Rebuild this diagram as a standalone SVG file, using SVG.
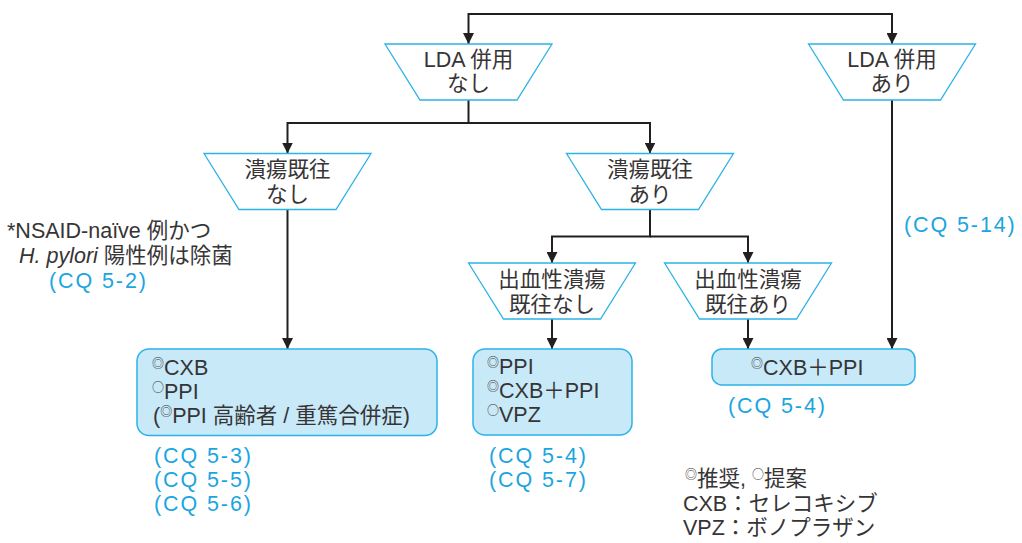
<svg xmlns="http://www.w3.org/2000/svg" width="1022" height="543" viewBox="0 0 1022 543">
<defs>
<style>
text{font-family:"Liberation Sans","Noto Sans CJK JP",sans-serif;font-size:21.5px;fill:#363435}
.c{text-anchor:middle}
.cq{fill:#1ba5df;letter-spacing:1.9px}
.sup{font-family:"Noto Sans CJK JP",sans-serif;font-size:12px}
.trap{fill:#fff;stroke:#2bb2e6;stroke-width:1.3}
.box{fill:#c8e9f8;stroke:#2bb2e6;stroke-width:1.5}
.ln{fill:none;stroke:#231f20;stroke-width:2}
</style>
<marker id="ah" viewBox="0 0 11 11" refX="11" refY="5.5" markerWidth="11" markerHeight="11" markerUnits="userSpaceOnUse" orient="auto">
<path d="M0,0 L11,5.5 L0,11 z" fill="#231f20"/>
</marker>
</defs>
<rect width="1022" height="543" fill="#fff"/>

<g id="connectors">
<path class="ln" d="M680,14 H468.5 V44" marker-end="url(#ah)"/>
<path class="ln" d="M680,14 H892 V44" marker-end="url(#ah)"/>
<path class="ln" d="M468.5,100 V123 H287.5 V153.5" marker-end="url(#ah)"/>
<path class="ln" d="M468.5,123 H650 V153.5" marker-end="url(#ah)"/>
<path class="ln" d="M287.5,209.5 V349" marker-end="url(#ah)"/>
<path class="ln" d="M650,209.5 V236.5 H552 V263" marker-end="url(#ah)"/>
<path class="ln" d="M650,236.5 H748 V263" marker-end="url(#ah)"/>
<path class="ln" d="M552,319 V349" marker-end="url(#ah)"/>
<path class="ln" d="M748,319 V349" marker-end="url(#ah)"/>
<path class="ln" d="M892,100 V349" marker-end="url(#ah)"/>
</g>

<g id="lda-none">
<polygon class="trap" points="385,44 552,44 517,100 420,100"/>
<text class="c" x="468.5" y="66.5">LDA 併用</text>
<text class="c" x="468.5" y="91">なし</text>
</g>
<g id="lda-yes">
<polygon class="trap" points="808.5,44 975.5,44 940.5,100 843.5,100"/>
<text class="c" x="892" y="66.5">LDA 併用</text>
<text class="c" x="892" y="91">あり</text>
</g>
<g id="ulcer-none">
<polygon class="trap" points="204,153.5 371,153.5 336,209.5 239,209.5"/>
<text class="c" x="287.5" y="176.5">潰瘍既往</text>
<text class="c" x="287.5" y="201.5">なし</text>
</g>
<g id="ulcer-yes">
<polygon class="trap" points="566.5,153.5 733.5,153.5 698.5,209.5 601.5,209.5"/>
<text class="c" x="650" y="176.5">潰瘍既往</text>
<text class="c" x="650" y="201.5">あり</text>
</g>
<g id="bleed-none">
<polygon class="trap" points="468.5,263 635.5,263 600.5,319 503.5,319"/>
<text class="c" x="552" y="287">出血性潰瘍</text>
<text class="c" x="552" y="312">既往なし</text>
</g>
<g id="bleed-yes">
<polygon class="trap" points="664.5,263 831.5,263 796.5,319 699.5,319"/>
<text class="c" x="748" y="287">出血性潰瘍</text>
<text class="c" x="748" y="312">既往あり</text>
</g>

<g id="box-cxb">
<rect class="box" x="137" y="349" width="300" height="86.5" rx="12"/>
<text x="152" y="375"><tspan class="sup" dy="-7">◎</tspan><tspan dy="7">CXB</tspan></text>
<text x="152" y="399"><tspan class="sup" dy="-7">○</tspan><tspan dy="7">PPI</tspan></text>
<text x="153" y="423">(<tspan class="sup" dy="-7">◎</tspan><tspan dy="7">PPI 高齢者 / 重篤合併症)</tspan></text>
</g>
<g id="box-ppi">
<rect class="box" x="473" y="349" width="159" height="86" rx="12"/>
<text x="487" y="374"><tspan class="sup" dy="-7">◎</tspan><tspan dy="7">PPI</tspan></text>
<text x="487" y="398"><tspan class="sup" dy="-7">◎</tspan><tspan dy="7">CXB＋PPI</tspan></text>
<text x="487" y="422"><tspan class="sup" dy="-7">○</tspan><tspan dy="7">VPZ</tspan></text>
</g>
<g id="box-cxbppi">
<rect class="box" x="712" y="349" width="203" height="36" rx="10"/>
<text x="751" y="375"><tspan class="sup" dy="-7">◎</tspan><tspan dy="7">CXB＋PPI</tspan></text>
</g>

<g id="notes">
<text x="7" y="238">*NSAID-naïve 例かつ</text>
<text x="19" y="263"><tspan font-style="italic">H. pylori</tspan> 陽性例は除菌</text>
<text class="cq" x="49" y="288">(CQ 5-2)</text>
<text class="cq" x="904" y="232">(CQ 5-14)</text>
<text class="cq" x="154" y="463">(CQ 5-3)</text>
<text class="cq" x="154" y="487">(CQ 5-5)</text>
<text class="cq" x="154" y="511">(CQ 5-6)</text>
<text class="cq" x="489" y="463">(CQ 5-4)</text>
<text class="cq" x="489" y="487">(CQ 5-7)</text>
<text class="cq" x="728" y="413">(CQ 5-4)</text>
</g>

<g id="legend">
<text x="685" y="486"><tspan class="sup" dy="-7">◎</tspan><tspan dy="7">推奨, </tspan><tspan class="sup" dy="-7">○</tspan><tspan dy="7">提案</tspan></text>
<text x="683" y="511">CXB：セレコキシブ</text>
<text x="683" y="535">VPZ：ボノプラザン</text>
</g>
</svg>
